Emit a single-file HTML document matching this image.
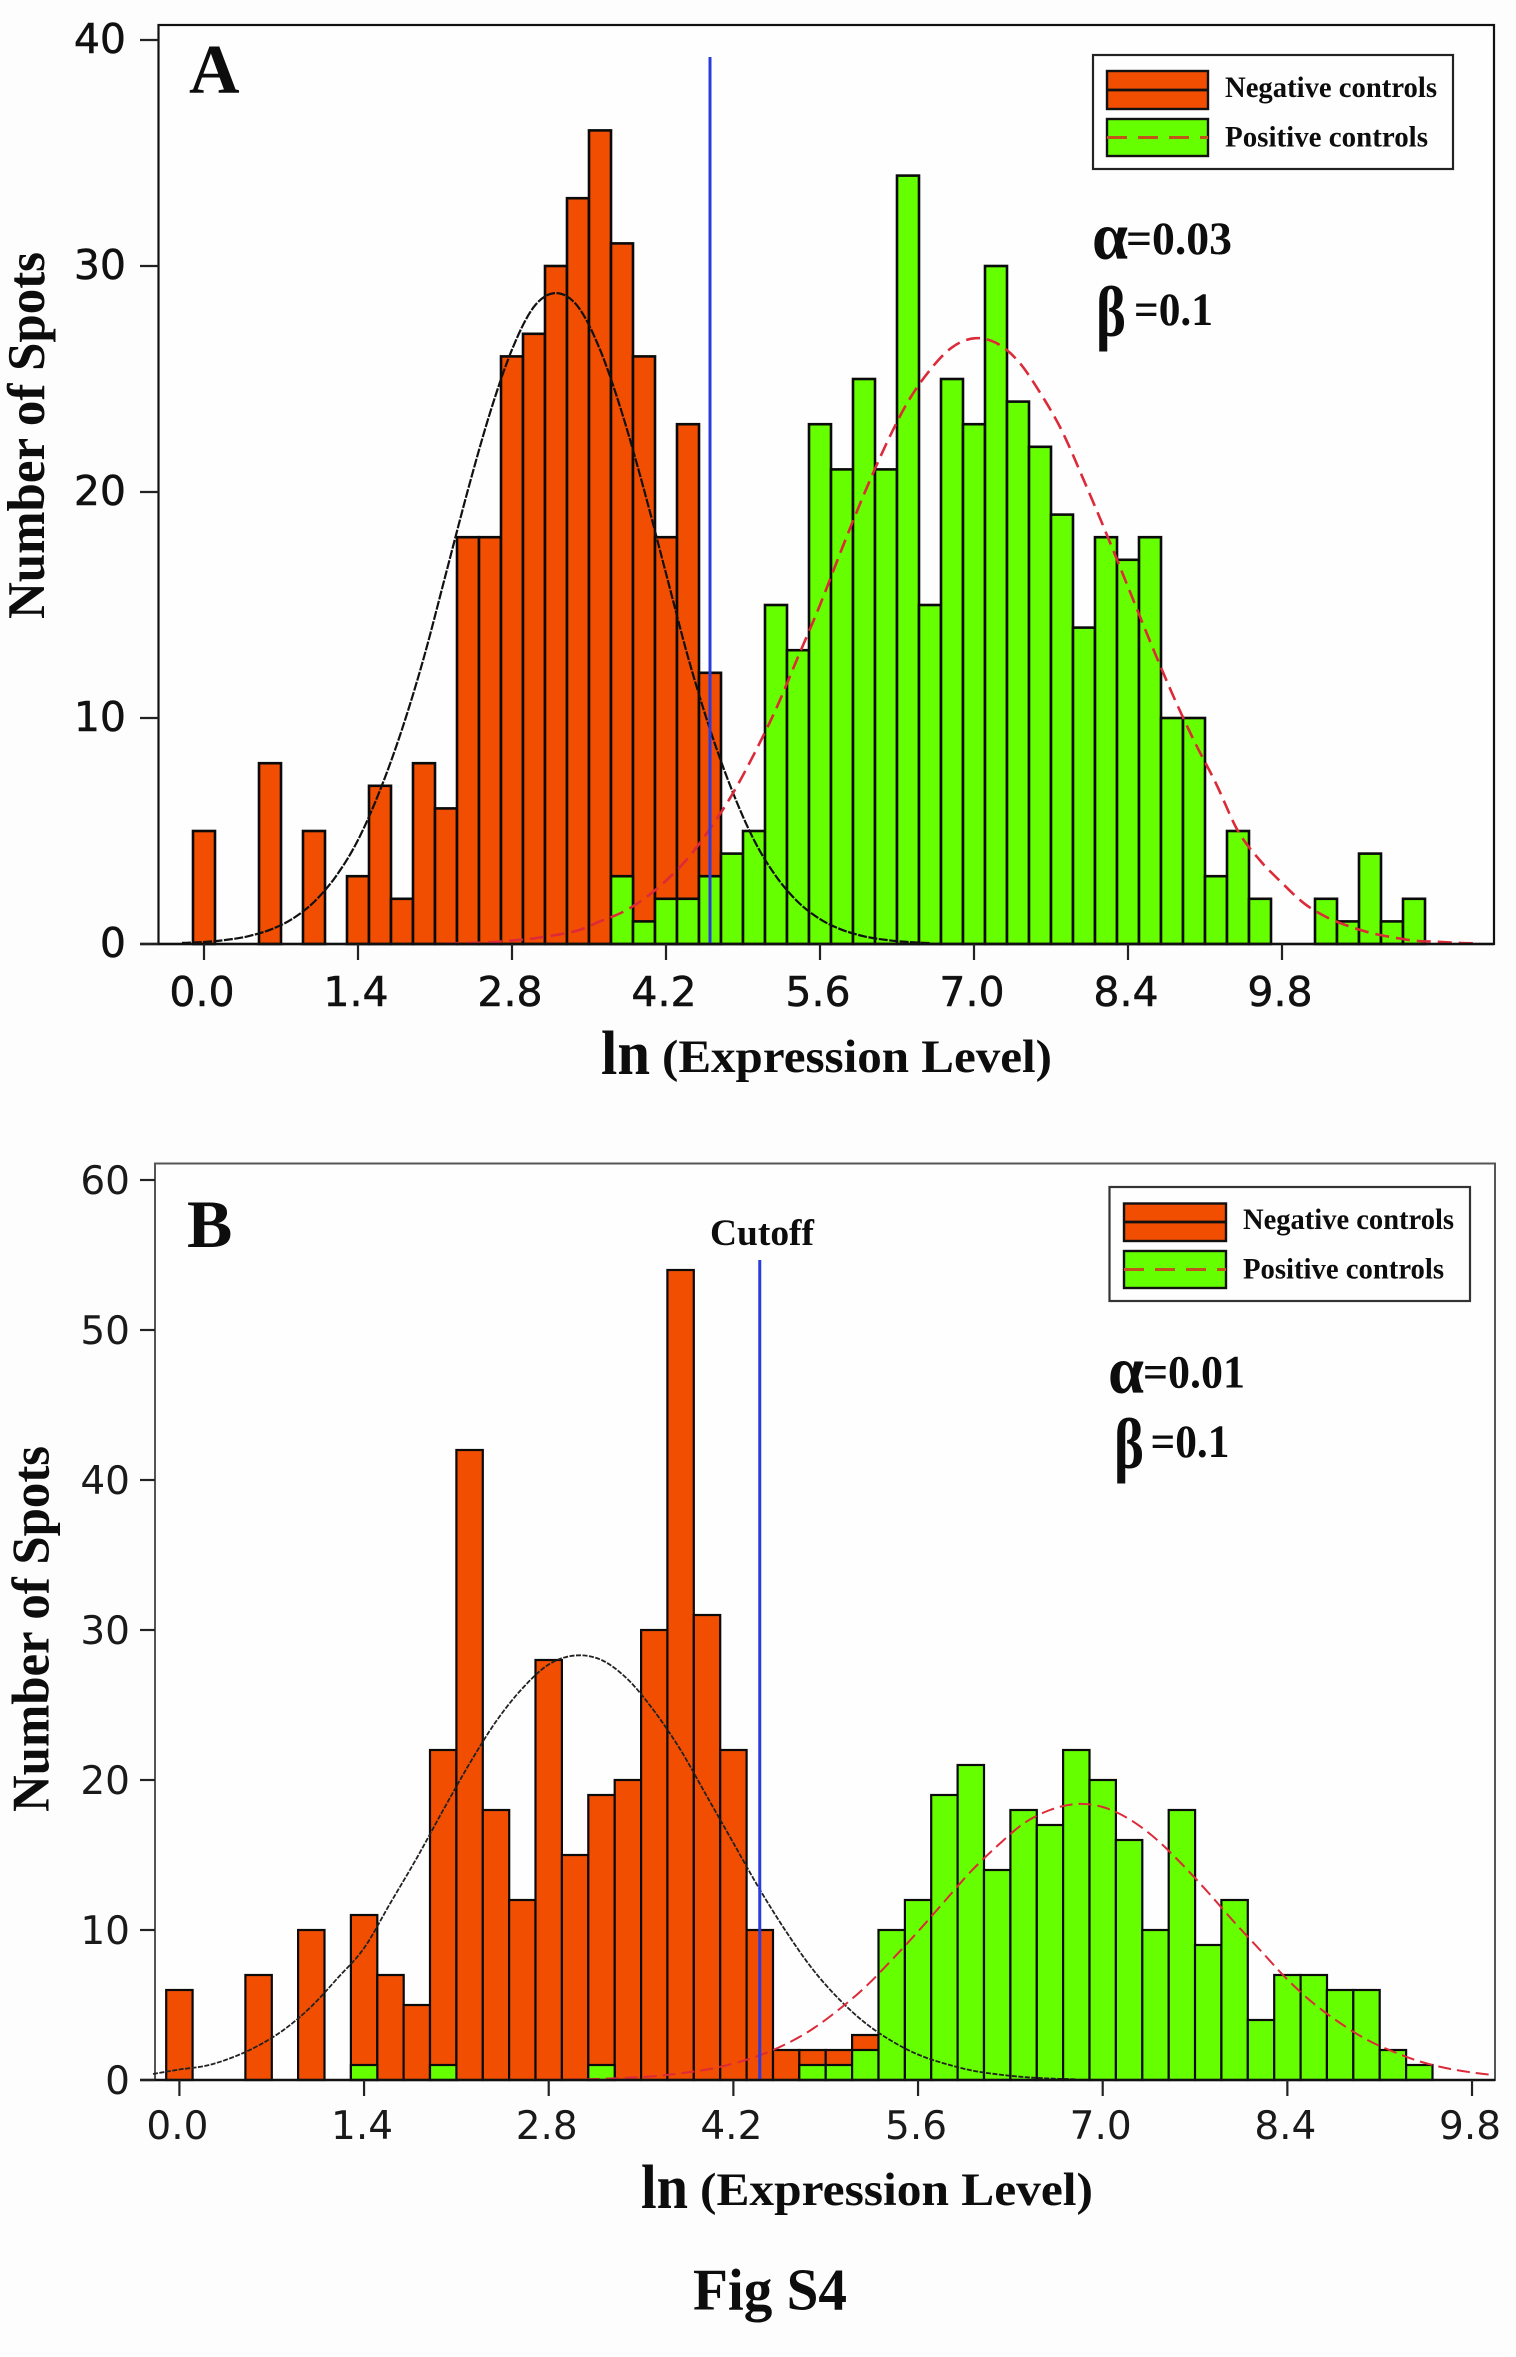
<!DOCTYPE html>
<html lang="en">
<head>
<meta charset="utf-8">
<title>Fig S4</title>
<style>
html,body{margin:0;padding:0;background:#fdfdfd;}
svg{display:block;}
.serif{font-family:"Liberation Serif",serif;font-weight:bold;fill:#0d0d0d;}
.tick{font-family:"DejaVu Sans",sans-serif;fill:#111;stroke:#111;stroke-width:0.5;}
.tickb{font-family:"DejaVu Sans",sans-serif;fill:#1a1a1a;}
</style>
</head>
<body>
<svg id="fig" xmlns="http://www.w3.org/2000/svg" width="1516" height="2357" viewBox="0 0 1516 2357">
  <rect x="0" y="0" width="1516" height="2357" fill="#fdfdfd"/>

  <g id="panelA">
    <rect x="158.5" y="25" width="1335.5" height="919" fill="#fefefe" stroke="#111" stroke-width="2.2"/>
    <g id="marksA"></g>
    <text class="serif" x="189" y="93" font-size="70">A</text>
    <text class="serif" transform="translate(44 619) rotate(-90)" font-size="53" textLength="367" lengthAdjust="spacingAndGlyphs">Number of Spots</text>
    <text class="serif" x="601" y="1074" font-size="62" textLength="49" lengthAdjust="spacingAndGlyphs">ln</text>
    <text class="serif" x="662" y="1072" font-size="47" textLength="390" lengthAdjust="spacingAndGlyphs">(Expression Level)</text>
    <g>
      <rect x="1093" y="55" width="360" height="114" fill="#fefefe" stroke="#222" stroke-width="2.2"/>
      <rect x="1107" y="71" width="101" height="38" fill="#f24e02" stroke="#111" stroke-width="2.4"/>
      <line x1="1107" y1="90" x2="1208" y2="90" stroke="#111" stroke-width="2.8"/>
      <rect x="1107" y="119" width="101" height="37" fill="#66ff00" stroke="#111" stroke-width="2.4"/>
      <line x1="1107" y1="137.5" x2="1208" y2="137.5" stroke="#c2551a" stroke-width="3" stroke-dasharray="20 11"/>
      <text class="serif" x="1225" y="97" font-size="30" textLength="212" lengthAdjust="spacingAndGlyphs">Negative controls</text>
      <text class="serif" x="1225" y="146.5" font-size="30" textLength="203" lengthAdjust="spacingAndGlyphs">Positive controls</text>
    </g>
    <text class="serif" x="1092" y="259" font-size="68" textLength="36" lengthAdjust="spacingAndGlyphs">α</text>
    <text class="serif" x="1126" y="254" font-size="47" textLength="106" lengthAdjust="spacingAndGlyphs">=0.03</text>
    <text class="serif" x="1096" y="336" font-size="72" textLength="30" lengthAdjust="spacingAndGlyphs">β</text>
    <text class="serif" x="1134" y="325" font-size="47" textLength="79" lengthAdjust="spacingAndGlyphs">=0.1</text>
  </g>

  <g id="panelB">
    <rect x="155" y="1163.5" width="1340" height="916.5" fill="#fefefe" stroke="#555" stroke-width="2"/>
    <g id="marksB"></g>
    <text class="serif" x="187" y="1247" font-size="68">B</text>
    <text class="serif" x="710" y="1245" font-size="37" textLength="104" lengthAdjust="spacingAndGlyphs">Cutoff</text>
    <text class="serif" transform="translate(48.5 1812) rotate(-90)" font-size="53" textLength="366" lengthAdjust="spacingAndGlyphs">Number of Spots</text>
    <text class="serif" x="641" y="2208" font-size="62" textLength="47" lengthAdjust="spacingAndGlyphs">ln</text>
    <text class="serif" x="700" y="2205" font-size="47" textLength="393" lengthAdjust="spacingAndGlyphs">(Expression Level)</text>
    <g>
      <rect x="1109.5" y="1187" width="360.5" height="114" fill="#fefefe" stroke="#333" stroke-width="2.2"/>
      <rect x="1124" y="1203.5" width="102" height="37.5" fill="#f24e02" stroke="#111" stroke-width="2.4"/>
      <line x1="1124" y1="1222" x2="1226" y2="1222" stroke="#111" stroke-width="2.8"/>
      <rect x="1124" y="1251" width="102" height="37" fill="#66ff00" stroke="#111" stroke-width="2.4"/>
      <line x1="1124" y1="1269.5" x2="1226" y2="1269.5" stroke="#c2551a" stroke-width="3" stroke-dasharray="20 11"/>
      <text class="serif" x="1243" y="1229" font-size="30" textLength="211" lengthAdjust="spacingAndGlyphs">Negative controls</text>
      <text class="serif" x="1243" y="1278.5" font-size="30" textLength="201" lengthAdjust="spacingAndGlyphs">Positive controls</text>
    </g>
    <text class="serif" x="1108" y="1393" font-size="68" textLength="36" lengthAdjust="spacingAndGlyphs">α</text>
    <text class="serif" x="1143" y="1387.5" font-size="47" textLength="102" lengthAdjust="spacingAndGlyphs">=0.01</text>
    <text class="serif" x="1114" y="1468" font-size="72" textLength="30" lengthAdjust="spacingAndGlyphs">β</text>
    <text class="serif" x="1150.5" y="1457" font-size="47" textLength="79" lengthAdjust="spacingAndGlyphs">=0.1</text>
  </g>

  <text class="serif" x="693" y="2309.5" font-size="59" textLength="154" lengthAdjust="spacingAndGlyphs">Fig S4</text>
</svg>

<script>
// Shared tick labels
const xTickLabels = ["0.0", "1.4", "2.8", "4.2", "5.6", "7.0", "8.4", "9.8"];
const yTicksA = [0, 10, 20, 30, 40];
const yTicksB = [0, 10, 20, 30, 40, 50, 60];

// Histogram bins (bin centre on ln scale), panel A
const binsA = [0.0,0.2,0.4,0.6,0.8,1.0,1.2,1.4,1.6,1.8,2.0,2.2,2.4,2.6,2.8,3.0,3.2,3.4,3.6,3.8,4.0,4.2,4.4,4.6,4.8,5.0,5.2,5.4,5.6,5.8,6.0,6.2,6.4,6.6,6.8,7.0,7.2,7.4,7.6,7.8,8.0,8.2,8.4,8.6,8.8,9.0,9.2,9.4,9.6,9.8,10.0,10.2,10.4,10.6,10.8,11.0];
const negativeA = [5,0,0,8,0,5,0,3,7,2,8,6,18,18,26,27,30,33,36,31,26,18,23,12,0,0,0,0,0,0,0,0,0,0,0,0,0,0,0,0,0,0,0,0,0,0,0,0,0,0,0,0,0,0,0,0];
const positiveA = [0,0,0,0,0,0,0,0,0,0,0,0,0,0,0,0,0,0,0,3,1,2,2,3,4,5,15,13,23,21,25,21,34,15,25,23,30,24,22,19,14,18,17,18,10,10,3,5,2,0,0,2,1,4,1,2];

// Fitted curves
const negCurveXA = [-0.2,0.0,0.2,0.4,0.6,0.8,1.0,1.2,1.4,1.6,1.8,2.0,2.2,2.4,2.6,2.8,3.0,3.2,3.4,3.6,3.8,4.0,4.2,4.4,4.6,4.8,5.0,5.2,5.4,5.6,5.8,6.0,6.2,6.4,6.6];
const negCurveYA = [0.05,0.09,0.18,0.34,0.63,1.1,1.86,3.0,4.6,6.8,9.5,12.7,16.4,20.1,23.5,26.3,28.2,28.8,28.2,26.3,23.5,20.1,16.4,12.7,9.5,6.8,4.6,3.0,1.86,1.1,0.63,0.34,0.18,0.09,0.04];
const posCurveXA = [2.2,2.4,2.6,2.8,3.0,3.2,3.4,3.6,3.8,4.0,4.2,4.4,4.6,4.8,5.0,5.2,5.4,5.6,5.8,6.0,6.2,6.4,6.6,6.8,7.0,7.2,7.4,7.6,7.8,8.0,8.2,8.4,8.6,8.8,9.0,9.2,9.4,9.6,9.8,10.0,10.2,10.4,10.6,10.8,11.0,11.2,11.4,11.6];
const posCurveYA = [0.02,0.04,0.08,0.15,0.25,0.4,0.6,1.0,1.4,2.0,2.8,3.8,5.1,6.6,8.4,10.4,12.7,15.0,17.5,19.9,22.1,24.0,25.4,26.4,26.8,26.6,25.8,24.4,22.7,20.5,18.2,15.8,13.4,11.1,9.0,7.1,5.0,3.7,2.7,1.8,1.2,0.8,0.5,0.3,0.15,0.1,0.05,0.02];

// Histogram bins, panel B
const binsB = [0.0,0.2,0.4,0.6,0.8,1.0,1.2,1.4,1.6,1.8,2.0,2.2,2.4,2.6,2.8,3.0,3.2,3.4,3.6,3.8,4.0,4.2,4.4,4.6,4.8,5.0,5.2,5.4,5.6,5.8,6.0,6.2,6.4,6.6,6.8,7.0,7.2,7.4,7.6,7.8,8.0,8.2,8.4,8.6,8.8,9.0,9.2,9.4];
const negativeB = [6,0,0,7,0,10,0,11,7,5,22,42,18,12,28,15,19,20,30,54,31,22,10,2,2,2,3,0,0,0,0,0,0,0,0,0,0,0,0,0,0,0,0,0,0,0,0,0];
const positiveB = [0,0,0,0,0,0,0,1,0,0,1,0,0,0,0,0,1,0,0,0,0,0,0,0,1,1,2,10,12,19,21,14,18,17,22,20,16,10,18,9,12,4,7,7,6,6,2,1];

// Fitted curves
const negCurveXB = [-0.2,0.0,0.2,0.4,0.6,0.8,1.0,1.2,1.4,1.6,1.8,2.0,2.2,2.4,2.6,2.8,3.0,3.2,3.4,3.6,3.8,4.0,4.2,4.4,4.6,4.8,5.0,5.2,5.4,5.6,5.8,6.0,6.2,6.4,6.6,6.8];
const negCurveYB = [0.4,0.7,0.95,1.5,2.3,3.4,4.9,6.8,8.8,11.8,14.8,18.0,21.1,23.9,26.1,27.7,28.3,28.0,26.7,24.6,22.0,18.9,15.8,12.7,9.9,7.4,5.4,3.8,2.6,1.7,1.1,0.65,0.38,0.2,0.1,0.05];
const posCurveXB = [2.8,3.0,3.2,3.4,3.6,3.8,4.0,4.2,4.4,4.6,4.8,5.0,5.2,5.4,5.6,5.8,6.0,6.2,6.4,6.6,6.8,7.0,7.2,7.4,7.6,7.8,8.0,8.2,8.4,8.6,8.8,9.0,9.2,9.4,9.6,9.8,9.95];
const posCurveYB = [0.02,0.04,0.08,0.15,0.25,0.45,0.7,1.1,1.65,2.4,3.4,4.7,6.2,8.0,9.9,11.9,13.9,15.6,17.1,18.0,18.4,18.2,17.4,16.1,14.4,12.5,10.5,8.6,6.7,5.1,3.8,2.7,1.9,1.25,0.8,0.5,0.35];

// Cutoff positions on ln scale
const cutoffA = 4.6;
const cutoffB = 4.4;

const NS = 'http://www.w3.org/2000/svg';

function shape(parent, tag, props) {
  const node = document.createElementNS(NS, tag);
  for (const key in props) node.setAttribute(key, props[key]);
  parent.appendChild(node);
  return node;
}

// Smooth path through the sampled curve readings (Catmull-Rom to Bezier)
function smoothPath(pts) {
  let d = 'M' + pts[0][0].toFixed(1) + ' ' + pts[0][1].toFixed(1);
  for (let i = 0; i < pts.length - 1; i++) {
    const p0 = pts[Math.max(i - 1, 0)];
    const p1 = pts[i];
    const p2 = pts[i + 1];
    const p3 = pts[Math.min(i + 2, pts.length - 1)];
    const c1x = p1[0] + (p2[0] - p0[0]) / 6;
    const c1y = p1[1] + (p2[1] - p0[1]) / 6;
    const c2x = p2[0] - (p3[0] - p1[0]) / 6;
    const c2y = p2[1] - (p3[1] - p1[1]) / 6;
    d += 'C' + c1x.toFixed(1) + ' ' + c1y.toFixed(1) + ' ' + c2x.toFixed(1) + ' ' + c2y.toFixed(1) + ' ' + p2[0].toFixed(1) + ' ' + p2[1].toFixed(1);
  }
  return d;
}

function drawCurve(parent, xs, ys, xFn, yFn, style, name) {
  const pts = xs.map(function (v, i) { return [xFn(v), yFn(ys[i])]; });
  const line = shape(parent, 'path', Object.assign({ d: smoothPath(pts), fill: 'none', 'stroke-linejoin': 'round' }, style));
  
  
}

function drawBars(parent, bins, values, xFn, yFn, binWidth, fill, strokeW, name) {
  values.forEach(function (v, i) {
    if (!v) return;
    const left = xFn(bins[i] - binWidth / 2);
    const right = xFn(bins[i] + binWidth / 2);
    const bar = shape(parent, 'rect', {
      x: left.toFixed(1), y: yFn(v).toFixed(1),
      width: (right - left).toFixed(1), height: (yFn(0) - yFn(v)).toFixed(1),
      fill: fill, stroke: '#0a0a0a', 'stroke-width': strokeW
    });
    
    
  });
}

function drawAxes(parent, opts) {
  const base = shape(parent, 'line', { x1: opts.tickLeft, x2: opts.right, y1: opts.y(0), y2: opts.y(0), stroke: '#111', 'stroke-width': 2.4 });
  
  
  opts.yTicks.forEach(function (v) {
    const t = shape(parent, 'line', { x1: opts.tickLeft, x2: opts.left, y1: opts.y(v), y2: opts.y(v), stroke: '#222', 'stroke-width': 2.2 });
    
    
    const label = shape(parent, 'text', { x: opts.yLabelRight, y: opts.y(v) + opts.yLabelDy, 'text-anchor': 'end', 'font-size': opts.fontSize, class: opts.cls });
    label.textContent = String(v);
    
    
  });
  xTickLabels.forEach(function (s) {
    const px = opts.x(parseFloat(s));
    const t = shape(parent, 'line', { x1: px, x2: px, y1: opts.y(0), y2: opts.y(0) + 16, stroke: '#222', 'stroke-width': 2.2 });
    
    
    const label = shape(parent, 'text', { x: px - 2, y: opts.xLabelY, 'text-anchor': 'middle', 'font-size': opts.fontSize, class: opts.cls });
    label.textContent = s;
    
    
  });
}

function drawCutoff(parent, value, xFn, yFn, top) {
  const c = shape(parent, 'line', { x1: xFn(value), x2: xFn(value), y1: top, y2: yFn(0), stroke: '#2a3ddc', 'stroke-width': 3 });
  
  
}

// Panel A axis functions
function xA(v) { return 204 + 110 * v; }
function yA(v) { return 944 - 22.6 * v; }
// Panel B axis functions
function xB(v) { return 179.4 + 131.9 * v; }
function yB(v) { return 2080 - 15 * v; }

const marksA = document.getElementById('marksA');
drawBars(marksA, binsA, negativeA, xA, yA, 0.2, '#f24e02', 2.6, 'negative-bar');
drawBars(marksA, binsA, positiveA, xA, yA, 0.2, '#66ff00', 2.6, 'positive-bar');
drawCurve(marksA, negCurveXA, negCurveYA, xA, yA, { stroke: '#111', 'stroke-width': 2.2, 'stroke-dasharray': '9 1.5' }, 'negative-fit-curve');
drawCurve(marksA, posCurveXA, posCurveYA, xA, yA, { stroke: '#dc2a38', 'stroke-width': 2.6, 'stroke-dasharray': '14 7' }, 'positive-fit-curve');
drawCutoff(marksA, cutoffA, xA, yA, 57);
drawAxes(marksA, { x: xA, y: yA, yTicks: yTicksA, left: 158.5, right: 1494, tickLeft: 140, yLabelRight: 126, yLabelDy: 13, xLabelY: 1006, fontSize: 41, cls: 'tick' });

const marksB = document.getElementById('marksB');
drawBars(marksB, binsB, negativeB, xB, yB, 0.2, '#f24e02', 2.2, 'negative-bar');
drawBars(marksB, binsB, positiveB, xB, yB, 0.2, '#66ff00', 2.2, 'positive-bar');
drawCurve(marksB, negCurveXB, negCurveYB, xB, yB, { stroke: '#222', 'stroke-width': 1.8, 'stroke-dasharray': '5 1.5' }, 'negative-fit-curve');
drawCurve(marksB, posCurveXB, posCurveYB, xB, yB, { stroke: '#dc2a38', 'stroke-width': 2, 'stroke-dasharray': '13 6' }, 'positive-fit-curve');
drawCutoff(marksB, cutoffB, xB, yB, 1260);
drawAxes(marksB, { x: xB, y: yB, yTicks: yTicksB, left: 155, right: 1495, tickLeft: 140, yLabelRight: 130, yLabelDy: 14, xLabelY: 2139, fontSize: 39, cls: 'tickb' });
</script>
</body>
</html>
